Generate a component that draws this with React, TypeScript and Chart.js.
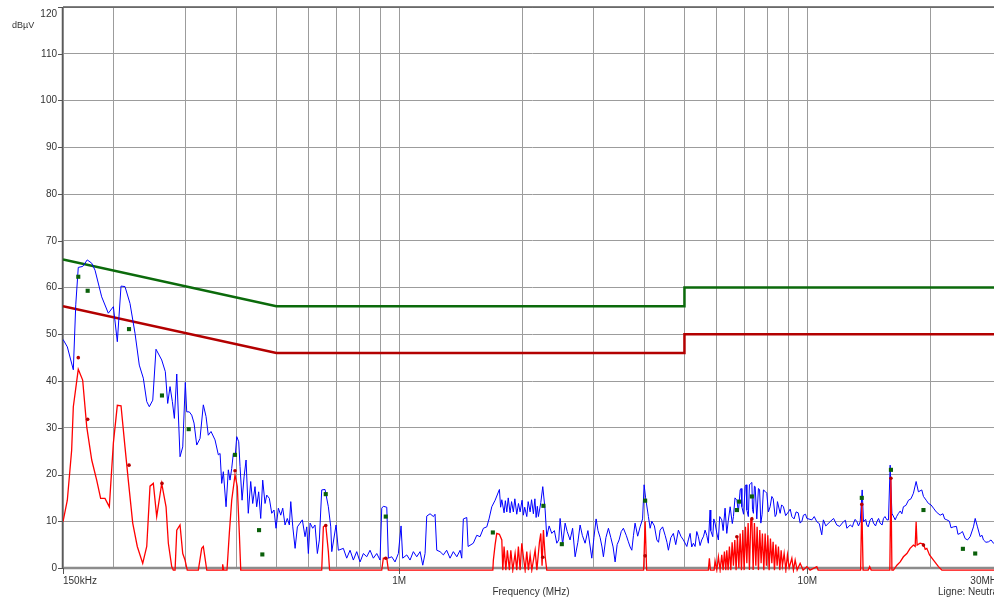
import { useEffect, useRef } from "react";
import { Chart, registerables } from "chart.js";

Chart.register(...registerables);

type Pt = [number, number];

// Limits (dBµV) vs frequency (MHz)
const qpLimit: Pt[] = [[0.15, 66], [0.5, 56], [5, 56], [5, 60], [30, 60]];
const avLimit: Pt[] = [[0.15, 56], [0.5, 46], [5, 46], [5, 50], [30, 50]];

// Peak scan (blue)
const peakLow: Pt[] = [
  [0.15, 48.9], [0.1537, 47.3], [0.159, 42.4], [0.1612, 56.3], [0.1635, 64.3], [0.1676, 64.5], [0.172, 65.9],
  [0.1764, 65.2], [0.1797, 63.7], [0.1866, 58.0], [0.1937, 54.5], [0.1993, 55.9], [0.2038, 48.4], [0.2081, 60.3],
  [0.2128, 60.2], [0.2189, 56.6], [0.2252, 50.2], [0.2307, 43.4], [0.236, 40.6], [0.2406, 35.6], [0.2441, 34.5],
  [0.2489, 35.9], [0.2535, 46.8], [0.2618, 44.5], [0.2672, 42.0], [0.2708, 35.2], [0.2744, 38.8], [0.278, 35.6],
  [0.2812, 32.0], [0.285, 41.5], [0.2903, 23.8], [0.2948, 25.9], [0.2991, 39.7], [0.3015, 33.4], [0.3059, 33.4],
  [0.3101, 32.7], [0.3142, 31.0], [0.319, 26.3], [0.325, 27.7], [0.3311, 34.9], [0.3362, 32.4], [0.3405, 28.4],
  [0.3458, 29.2], [0.3537, 27.4], [0.3604, 24.2], [0.3639, 24.5], [0.3673, 18.1], [0.3707, 20.6], [0.3764, 13.1],
  [0.3813, 21.0], [0.3849, 18.8], [0.3886, 21.3], [0.3922, 24.5], [0.3966, 24.2], [0.3998, 28.1], [0.4043, 27.0],
  [0.4073, 21.7], [0.412, 14.5], [0.4167, 19.5], [0.4214, 23.1], [0.4267, 11.7], [0.4326, 18.5], [0.4375, 13.8],
  [0.4432, 17.4], [0.4474, 13.1], [0.4525, 16.3], [0.4577, 10.6], [0.4629, 18.8], [0.469, 13.8], [0.4735, 15.6],
  [0.4805, 14.9], [0.4871, 11.7], [0.4934, 12.4], [0.499, 8.5],
];
const peakMid: Pt[] = [
  [0.5056, 12.8], [0.5125, 11.3], [0.5183, 12.8], [0.525, 9.2], [0.5318, 10.6], [0.538, 9.2], [0.5423, 14.2],
  [0.5485, 8.8], [0.5557, 4.2], [0.5629, 8.8], [0.5715, 9.6], [0.5789, 10.3], [0.5878, 6.7], [0.5935, 8.8],
  [0.5989, 3.1], [0.6047, 9.6], [0.6138, 8.5], [0.6218, 9.2], [0.6301, 3.1], [0.6372, 6.0], [0.6458, 16.7],
  [0.658, 16.8], [0.6704, 13.1], [0.6796, 8.8], [0.6835, 3.5], [0.7002, 9.2], [0.7093, 3.8], [0.7296, 4.2],
  [0.7436, 2.1], [0.7577, 3.8], [0.772, 1.7], [0.7868, 3.5], [0.8017, 1.3], [0.8169, 3.1], [0.8325, 2.4],
  [0.8482, 3.8], [0.8642, 2.1], [0.881, 3.1], [0.8974, 1.7], [0.9061, 12.8], [0.9143, 13.2], [0.9322, 13.0],
  [0.9406, 2.1], [0.9587, 2.4], [0.9767, 1.3], [0.9952, 3.1], [1.0104, 9.0], [1.02, 2.1], [1.0435, 2.8],
  [1.063, 1.7], [1.083, 3.5], [1.104, 2.4], [1.125, 3.5], [1.142, 0.6], [1.157, 3.1], [1.168, 11.1], [1.19, 11.6],
  [1.213, 11.0], [1.224, 11.5], [1.236, 3.8], [1.259, 3.5], [1.283, 2.8], [1.307, 3.8], [1.332, 2.1], [1.357, 3.5],
  [1.384, 2.4], [1.41, 3.8], [1.423, 2.1], [1.436, 10.5], [1.464, 10.8], [1.475, 4.6], [1.519, 5.3], [1.549, 7.0],
  [1.578, 6.7], [1.608, 8.5], [1.639, 8.8], [1.66, 10.5], [1.686, 13.1], [1.718, 14.5], [1.76, 16.8], [1.772, 13.0],
  [1.784, 14.6], [1.807, 11.8], [1.82, 14.4], [1.835, 12.0], [1.85, 15.0], [1.869, 11.8], [1.885, 14.2],
  [1.904, 12.0], [1.92, 14.8], [1.941, 11.5], [1.96, 13.8], [1.978, 12.0], [2.0, 14.5], [2.015, 11.3], [2.03, 13.0],
  [2.054, 11.0], [2.07, 14.2], [2.093, 12.0], [2.11, 14.6], [2.132, 11.6], [2.15, 14.8], [2.165, 10.8],
  [2.18, 13.2], [2.193, 11.0], [2.223, 14.0], [2.248, 17.4], [2.278, 12.4], [2.299, 6.7], [2.33, 9.0],
  [2.365, 7.4], [2.4, 8.0], [2.433, 5.3], [2.46, 6.0], [2.479, 10.6], [2.514, 5.0], [2.55, 9.6], [2.58, 7.8],
  [2.622, 6.0], [2.66, 8.5], [2.698, 2.4], [2.74, 5.5], [2.775, 9.2], [2.81, 7.0], [2.854, 5.3], [2.9, 8.0],
  [2.964, 2.1], [3.0, 6.5], [3.037, 10.5], [3.07, 8.0], [3.107, 6.5], [3.14, 4.5], [3.165, 2.4], [3.21, 6.5],
  [3.256, 8.5], [3.3, 6.5], [3.343, 4.5], [3.381, 1.3], [3.42, 5.0], [3.458, 6.0], [3.5, 7.8], [3.543, 8.5],
  [3.6, 7.0], [3.644, 5.6], [3.68, 4.5], [3.715, 3.8], [3.75, 7.0], [3.784, 9.6], [3.84, 6.8], [3.893, 8.8],
  [3.948, 10.5], [3.982, 17.8], [4.016, 15.0], [4.08, 11.0], [4.12, 8.5], [4.159, 10.0], [4.22, 9.0], [4.278, 6.0],
  [4.32, 5.5], [4.358, 8.1], [4.42, 8.8], [4.483, 7.0], [4.53, 5.5], [4.567, 3.8], [4.63, 6.5], [4.697, 7.4],
  [4.76, 5.0], [4.832, 8.1], [4.9, 6.8], [4.97, 6.0],
];
const peakHigh: Pt[] = [
  [5.067, 4.6], [5.11, 6.0], [5.162, 7.4], [5.21, 4.5], [5.259, 5.3], [5.309, 4.6], [5.36, 7.8], [5.409, 6.7],
  [5.46, 4.8], [5.513, 6.0], [5.57, 6.8], [5.617, 8.1], [5.67, 7.0], [5.722, 5.3],
  [5.778, 12.4], [5.8, 8.0], [5.866, 6.7], [5.9, 10.5], [5.942, 9.6], [6.0, 7.5], [6.055, 6.0], [6.1, 11.0],
  [6.172, 10.3], [6.22, 8.0], [6.288, 12.8], [6.349, 7.4], [6.4, 10.0], [6.471, 13.1], [6.55, 9.5], [6.592, 11.0],
  [6.65, 15.0], [6.72, 14.5], [6.78, 12.0], [6.846, 16.7], [6.88, 17.0], [6.913, 13.1], [6.98, 11.5],
  [7.043, 17.4], [7.08, 17.8], [7.11, 12.4], [7.17, 11.0], [7.215, 17.8], [7.25, 18.0], [7.314, 18.3],
  [7.34, 12.5], [7.379, 11.7], [7.42, 17.5], [7.451, 17.4], [7.52, 10.5], [7.59, 17.0], [7.64, 16.8], [7.694, 9.6],
  [7.75, 11.5], [7.807, 16.7], [7.88, 16.4], [7.958, 16.0], [8.03, 12.0], [8.108, 13.1], [8.186, 15.3],
  [8.25, 14.8], [8.341, 11.0], [8.4, 11.5], [8.45, 14.2], [8.58, 11.7], [8.65, 13.5], [8.741, 13.1], [8.85, 11.2],
  [8.991, 12.0], [9.08, 12.6], [9.165, 11.0], [9.28, 10.5], [9.39, 12.0], [9.5, 11.8], [9.605, 9.6], [9.7, 10.0],
  [9.784, 11.3], [9.9, 11.5], [9.975, 10.6], [10.26, 10.3], [10.4, 11.0], [10.55, 9.9], [10.7, 9.5], [10.85, 7.1],
  [10.95, 10.3], [11.1, 9.0], [11.37, 9.9], [11.6, 10.6], [11.81, 9.2], [12.0, 8.9], [12.26, 9.9], [12.4, 10.2],
  [12.5, 8.5], [12.74, 9.2], [12.9, 8.8], [12.98, 9.6], [13.1, 10.4], [13.23, 9.9], [13.35, 9.0], [13.48, 9.9],
  [13.63, 16.7], [13.73, 9.9], [13.9, 10.4], [13.99, 9.2], [14.1, 8.8], [14.26, 10.3], [14.4, 10.7],
  [14.53, 9.6], [14.7, 9.0], [14.81, 9.9], [14.95, 10.6], [15.08, 9.6], [15.25, 9.2], [15.37, 10.6], [15.5, 11.0],
  [15.67, 10.3], [15.81, 10.3], [15.96, 22.0], [16.12, 11.7], [16.42, 10.3], [16.55, 11.0], [16.73, 11.7],
  [16.9, 12.2], [17.05, 11.6], [17.2, 13.1], [17.45, 13.4], [17.7, 14.5], [17.95, 14.8], [18.2, 16.0],
  [18.48, 18.5], [18.72, 16.3], [19.08, 16.7], [19.26, 15.3], [19.56, 14.5], [19.81, 13.8], [20.1, 13.5],
  [20.38, 12.8], [20.7, 12.0], [21.16, 11.3], [21.5, 11.6], [21.7, 10.5], [21.98, 10.3], [22.3, 10.0],
  [22.5, 8.6], [22.81, 8.8], [23.2, 8.9], [23.4, 7.2], [23.69, 7.4], [24.0, 7.8], [24.37, 6.3], [24.7, 6.0],
  [25.07, 6.7], [25.54, 8.8], [25.79, 10.6], [26.12, 8.8], [26.52, 6.7], [26.8, 7.0], [27.02, 6.0], [27.4, 5.5],
  [27.8, 5.6], [28.2, 6.0], [28.59, 5.3], [30, 5.5],
];

// Average scan (red)
const avgLow: Pt[] = [
  [0.15, 9.9], [0.1537, 14.5], [0.1575, 25.2], [0.159, 34.5], [0.1635, 42.5], [0.1676, 40.2], [0.1715, 30.2],
  [0.1764, 23.1], [0.1814, 18.8], [0.1855, 14.9], [0.1901, 14.9], [0.1948, 13.1], [0.1993, 26.7], [0.2038, 34.8],
  [0.2081, 34.7], [0.2128, 25.9], [0.2168, 18.8], [0.2223, 9.6], [0.2281, 4.6], [0.2352, 1.0], [0.2406, 4.6],
  [0.2451, 17.5], [0.2497, 18.1], [0.2545, 11.0], [0.2618, 18.1], [0.2683, 13.1], [0.2718, 5.3], [0.277, 0.3],
  [0.2795, -0.45], [0.2823, -0.45], [0.285, 8.1], [0.2903, 9.2], [0.2948, 3.1], [0.2986, 1.7], [0.3024, -0.45],
  [0.3219, -0.45], [0.3281, 4.2], [0.3311, 4.6], [0.3376, -0.45], [0.3679, -0.45], [0.3693, 0.8], [0.3715, -0.45],
  [0.3784, -0.45], [0.3834, 7.4], [0.3886, 14.5], [0.3959, 19.9], [0.4011, 17.4], [0.4057, 7.4], [0.4089, -0.45],
];
const avgMid: Pt[] = [
  [0.6458, -0.45], [0.6518, 8.8], [0.6606, 9.2], [0.6704, 3.5], [0.675, -0.45], [0.9061, -0.45], [0.9143, 2.1],
  [0.9322, 2.1], [0.9406, -0.45], [1.696, -0.45], [1.701, 1.7], [1.718, 5.0], [1.734, 7.4], [1.76, 7.2],
  [1.784, 6.0], [1.794, -0.45], [1.807, 4.6], [1.825, -0.45], [1.841, 3.8], [1.862, -0.45], [1.877, 3.8],
  [1.898, -0.45], [1.923, 3.1], [1.941, -0.45], [1.959, 4.6], [1.978, -0.45], [1.997, 5.3], [2.015, 2.4],
  [2.035, -0.45], [2.054, 3.5], [2.073, -0.45], [2.093, 2.8], [2.113, -0.45], [2.153, 3.8], [2.174, -0.45],
  [2.206, 5.5], [2.223, 7.4], [2.239, 0.5], [2.256, 8.1], [2.278, 2.5], [2.299, -0.45], [3.971, -0.45],
  [4.005, 10.0], [4.039, -0.45],
];
const avgHigh: Pt[] = [
  [5.722, -0.45], [5.755, 2.1], [5.789, -0.45], [5.911, -0.45], [5.942, 1.5], [6.001, -0.45], [6.055, 2.4],
  [6.114, -0.45], [6.172, 2.8], [6.218, -0.45], [6.265, 3.5], [6.314, -0.45], [6.349, 3.8], [6.397, -0.45],
  [6.444, 4.6], [6.495, -0.45], [6.543, 5.5], [6.592, 0.5], [6.643, 6.0], [6.692, -0.45], [6.742, 6.7],
  [6.796, 0], [6.846, 7.4], [6.897, -0.45], [6.95, 8.1], [7.002, -0.45], [7.054, 8.8], [7.11, 1.0], [7.161, 9.6],
  [7.215, -0.45], [7.272, 10.3], [7.314, 10.6], [7.367, -0.45], [7.42, 9.6], [7.479, 0.5], [7.534, 8.8],
  [7.59, -0.45], [7.649, 8.1], [7.706, 1.0], [7.762, 7.4], [7.825, -0.45], [7.883, 7.4], [7.941, 0.5],
  [8.003, 7.0], [8.063, -0.45], [8.122, 6.3], [8.186, 1.0], [8.246, 5.6], [8.308, -0.45], [8.373, 5.0],
  [8.435, 0.5], [8.497, 4.6], [8.564, -0.45], [8.628, 3.8], [8.692, 0.5], [8.775, 3.1], [8.86, -0.45],
  [8.94, 2.8], [9.027, 0], [9.165, 2.1], [9.247, -0.45], [9.338, 1.7], [9.443, -0.45], [9.605, 1.0],
  [9.767, -0.45], [9.975, 0.3], [10.16, -0.45], [10.55, 0.3], [10.63, -0.45], [13.51, -0.45], [13.6, 13.8],
  [13.7, -0.45], [14.1, -0.45], [14.22, 0.3], [14.34, -0.45], [15.93, -0.45], [16.03, 19.2], [16.12, -0.45],
  [16.26, -0.45], [16.58, 0.6], [16.89, 1.3], [17.2, 2.4], [17.54, 3.1], [17.86, 4.2], [18.2, 4.9], [18.38, 4.6],
  [18.48, 9.9], [18.58, 4.9], [18.9, 5.3], [19.26, 5.1], [19.45, 4.0], [19.63, 4.2], [19.93, 2.8], [20.38, 1.7],
  [20.96, 0.3], [21.37, -0.45], [30, -0.45],
];

// Final measurement results
const qpResults: Pt[] = [
  [0.1635, 62.3], [0.1724, 59.3], [0.2177, 51.1], [0.2622, 36.9], [0.3049, 29.7], [0.3959, 24.2], [0.4534, 8.1],
  [0.4619, 2.9], [0.6606, 15.8], [0.9268, 11.0], [1.696, 7.6], [2.256, 13.3], [2.503, 5.1], [4.005, 14.4],
  [6.72, 12.4], [6.808, 14.2], [7.314, 15.3], [13.6, 15.0], [16.03, 21.0], [19.26, 12.4], [24.06, 4.1], [25.79, 3.1],
];
const avResults: Pt[] = [
  [0.1635, 45.0], [0.1724, 31.8], [0.2177, 22.0], [0.2622, 18.1], [0.3042, -0.45], [0.3959, 20.8], [0.4534, -0.45],
  [0.4619, -0.45], [0.6606, 9.1], [0.9268, 2.1], [1.696, -0.45], [2.248, 2.3], [2.503, -0.45], [4.005, 2.6],
  [6.72, 6.7], [7.314, 10.5], [13.6, 13.6], [16.03, 19.2], [19.26, 4.9], [24.06, -0.45], [25.79, -0.45],
];

const yTicks = [0, 10, 20, 30, 40, 50, 60, 70, 80, 90, 100, 110, 120];
const xGrid = [0.15, 0.2, 0.3, 0.4, 0.5, 0.6, 0.7, 0.8, 0.9, 1, 2, 3, 4, 5, 6, 7, 8, 9, 10, 20, 30];
const xLabels: [number, string, CanvasTextAlign][] = [
  [0.15, "150kHz", "left"], [1, "1M", "center"], [10, "10M", "center"], [30, "30MHz", "right"],
];
const yUnit = "dBµV";
const xTitle = "Frequency (MHz)";
const footNote = "Ligne: Neutral";

const toXY = (pts: Pt[]) => pts.map(([x, y]) => ({ x, y }));

const FONT = '"Liberation Sans", Arial, sans-serif';

const framePlugin = {
  id: "emiFrame",
  beforeDatasetsDraw(chart: any) {
    const { ctx, chartArea: a } = chart;
    ctx.save();
    ctx.strokeStyle = "#8c8c8c";
    ctx.lineWidth = 2.5;
    ctx.beginPath();
    ctx.moveTo(a.left, a.bottom);
    ctx.lineTo(a.right, a.bottom);
    ctx.stroke();
    ctx.strokeStyle = "#5a5a5a";
    ctx.lineWidth = 1.5;
    ctx.beginPath();
    ctx.moveTo(a.left, a.top);
    ctx.lineTo(a.right, a.top);
    ctx.moveTo(a.left - 0.5, a.top);
    ctx.lineTo(a.left - 0.5, a.bottom);
    ctx.stroke();
    ctx.restore();
  },
  afterDraw(chart: any) {
    const { ctx, chartArea: a, scales } = chart;
    const xs = scales.x;
    const ys = scales.y;
    ctx.save();
    ctx.strokeStyle = "#555";
    ctx.lineWidth = 1;
    ctx.beginPath();
    yTicks.forEach((v) => {
      const py = Math.round(ys.getPixelForValue(v)) + 0.5;
      ctx.moveTo(a.left - 5, py);
      ctx.lineTo(a.left, py);
    });
    xLabels.forEach(([v]) => {
      const px = Math.round(xs.getPixelForValue(v)) + 0.5;
      ctx.moveTo(px, a.bottom);
      ctx.lineTo(px, a.bottom + 6);
    });
    ctx.stroke();

    ctx.fillStyle = "#333";
    ctx.font = `10px ${FONT}`;
    ctx.textBaseline = "alphabetic";
    ctx.textAlign = "right";
    yTicks.forEach((v) => {
      const py = ys.getPixelForValue(v);
      const base = v === 120 ? a.top + 10 : py + 2.8;
      ctx.fillText(String(v), a.left - 6, base);
    });
    xLabels.forEach(([v, t, al]) => {
      ctx.textAlign = al;
      ctx.fillText(t, xs.getPixelForValue(v), a.bottom + 15.5);
    });
    ctx.textAlign = "center";
    ctx.fillText(xTitle, 531, a.bottom + 27);
    ctx.textAlign = "left";
    ctx.fillText(footNote, 938, a.bottom + 27);
    ctx.font = `9px ${FONT}`;
    ctx.fillText(yUnit, 12, 28);
    ctx.restore();
  },
};

const clip = { left: 0, top: 0, right: 0, bottom: 5 };

export default function App() {
  const ref = useRef<HTMLCanvasElement>(null);
  useEffect(() => {
    const canvas = ref.current;
    if (!canvas) return;
    const chart = new Chart(canvas, {
      type: "line",
      data: {
        datasets: [
          {
            label: "QP",
            data: toXY(qpResults),
            showLine: false,
            pointStyle: "rect",
            pointRadius: 2.9,
            pointHoverRadius: 2.9,
            pointBackgroundColor: "#0a600a",
            pointBorderWidth: 0,
            borderColor: "#0a600a",
            order: 0,
            clip,
          } as any,
          {
            label: "AV",
            data: toXY(avResults),
            showLine: false,
            pointStyle: "circle",
            pointRadius: 1.8,
            pointHoverRadius: 1.8,
            pointBackgroundColor: "#b80000",
            pointBorderWidth: 0,
            borderColor: "#b80000",
            order: 1,
            clip,
          } as any,
          {
            label: "Average",
            data: toXY([...avgLow, ...avgMid, ...avgHigh]),
            borderColor: "#ff0000",
            borderWidth: 1.3,
            pointRadius: 0,
            pointHoverRadius: 0,
            tension: 0,
            order: 2,
            clip,
          } as any,
          {
            label: "Peak",
            data: toXY([...peakLow, ...peakMid, ...peakHigh]),
            borderColor: "#0000ff",
            borderWidth: 1,
            pointRadius: 0,
            pointHoverRadius: 0,
            tension: 0,
            order: 3,
            clip,
          } as any,
          {
            label: "QP limit",
            data: toXY(qpLimit),
            borderColor: "#0b6a0b",
            borderWidth: 2.5,
            pointRadius: 0,
            pointHoverRadius: 0,
            tension: 0,
            order: 4,
            clip,
          } as any,
          {
            label: "AV limit",
            data: toXY(avLimit),
            borderColor: "#b30000",
            borderWidth: 2.5,
            pointRadius: 0,
            pointHoverRadius: 0,
            tension: 0,
            order: 5,
            clip,
          } as any,
        ],
      },
      options: {
        animation: false,
        responsive: false,
        devicePixelRatio: 1,
        events: [],
        layout: { autoPadding: false, padding: { top: 7, left: 0, right: 0, bottom: 0 } },
        plugins: { legend: { display: false }, tooltip: { enabled: false } },
        scales: {
          x: {
            type: "logarithmic",
            min: 0.15,
            max: 30,
            ticks: { display: false },
            grid: { color: "#9c9c9c", lineWidth: 1, drawTicks: false },
            border: { display: false },
            afterBuildTicks: (s: any) => {
              s.ticks = xGrid.map((v) => ({ value: v }));
            },
            afterFit: (s: any) => {
              s.height = 30;
            },
          },
          y: {
            type: "linear",
            min: 0,
            max: 120,
            ticks: { display: false, stepSize: 10 },
            grid: { color: "#9c9c9c", lineWidth: 1, drawTicks: false },
            border: { display: false },
            afterFit: (s: any) => {
              s.width = 63;
            },
          },
        },
      } as any,
      plugins: [framePlugin],
    });
    return () => chart.destroy();
  }, []);
  return (
    <div
      style={{
        position: "fixed",
        left: 0,
        top: 0,
        width: 994,
        height: 598,
        overflow: "hidden",
        background: "#fff",
      }}
    >
      <canvas ref={ref} width={1002} height={598} style={{ display: "block", width: 1002, height: 598 }} />
    </div>
  );
}
